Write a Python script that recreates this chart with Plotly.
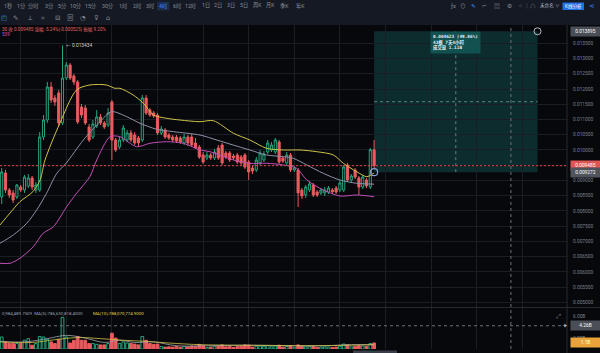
import plotly.graph_objects as go

W, H = 600, 353
BG = "#07080b"
BAR_BG = "#151923"
GRID = "#1a1d24"
AX = "#7c818b"
UP = "#27a47e"
DN = "#ea5b5e"
FONT = "Roboto, Noto Sans CJK SC, DejaVu Sans"

# ---------------- data (4h candles) ----------------
idx = list(range(99))
opens = [0.008458, 0.009246, 0.008688, 0.00859, 0.008458, 0.008786, 0.008688, 0.008819, 0.009082, 0.008688,
         0.008688, 0.010426, 0.010984, 0.012066, 0.011706, 0.01187, 0.010886, 0.012362, 0.012788, 0.012427,
         0.01223, 0.01141, 0.011378, 0.010754, 0.010426, 0.010787, 0.011082, 0.010886, 0.01082, 0.011574,
         0.010328, 0.010098, 0.010328, 0.010328, 0.010558, 0.010492, 0.010394, 0.010328, 0.011706, 0.011312,
         0.011214, 0.011148, 0.010558, 0.010656, 0.010492, 0.010426, 0.010426, 0.010394, 0.01023, 0.010426,
         0.010426, 0.01023, 0.010098, 0.009836, 0.009738, 0.009836, 0.009738, 0.010066, 0.010164, 0.009902,
         0.009902, 0.009803, 0.009836, 0.00977, 0.009836, 0.009606, 0.00941, 0.009344, 0.009574, 0.009672,
         0.009934, 0.01, 0.009934, 0.010262, 0.009738, 0.009574, 0.009836, 0.009344, 0.009344, 0.008688,
         0.008524, 0.008688, 0.008852, 0.008622, 0.00859, 0.00859, 0.008622, 0.008688, 0.008754, 0.008688,
         0.008688, 0.009508, 0.009016, 0.009344, 0.009082, 0.008786, 0.009016, 0.008786, 0.01001]
highs = [0.00941, 0.009344, 0.008754, 0.008688, 0.008885, 0.008852, 0.00918, 0.009213, 0.009147, 0.00895,
         0.01059, 0.011148, 0.01223, 0.01223, 0.011804, 0.011968, 0.013434, 0.012886, 0.012854, 0.012493,
         0.012296, 0.011509, 0.011476, 0.010853, 0.010984, 0.011312, 0.011181, 0.010951, 0.011378, 0.01164,
         0.010394, 0.010426, 0.01082, 0.010656, 0.010656, 0.01059, 0.010459, 0.011804, 0.011804, 0.011378,
         0.011279, 0.011214, 0.010787, 0.010722, 0.010558, 0.010492, 0.010492, 0.010459, 0.010525, 0.010492,
         0.010525, 0.010394, 0.010164, 0.009934, 0.009934, 0.009902, 0.010033, 0.010164, 0.01023, 0.009967,
         0.009967, 0.009869, 0.009902, 0.009836, 0.009902, 0.009672, 0.009475, 0.00977, 0.01, 0.009967,
         0.010328, 0.010262, 0.010394, 0.010328, 0.009803, 0.009934, 0.009902, 0.009475, 0.00941, 0.008754,
         0.008852, 0.008983, 0.008918, 0.008688, 0.008754, 0.008786, 0.008819, 0.008754, 0.008819, 0.009016,
         0.009508, 0.009574, 0.009213, 0.00941, 0.009147, 0.00918, 0.009082, 0.010066, 0.010331]
lows = [0.008229, 0.00859, 0.008426, 0.008262, 0.008393, 0.008622, 0.00859, 0.008754, 0.008688, 0.00859,
        0.008622, 0.010328, 0.010886, 0.011542, 0.011443, 0.010787, 0.01082, 0.012296, 0.012296, 0.012132,
        0.010853, 0.01105, 0.01082, 0.010262, 0.010361, 0.010722, 0.01082, 0.010689, 0.010754, 0.009672,
        0.009934, 0.010033, 0.010262, 0.010262, 0.010262, 0.010164, 0.010131, 0.010262, 0.011148, 0.011082,
        0.01105, 0.010492, 0.010492, 0.010361, 0.010328, 0.010262, 0.01023, 0.010197, 0.010164, 0.010131,
        0.010098, 0.010033, 0.009705, 0.009541, 0.009672, 0.009672, 0.009672, 0.009672, 0.009508, 0.009705,
        0.009606, 0.009672, 0.009541, 0.009508, 0.009377, 0.009016, 0.009213, 0.009278, 0.009508, 0.009606,
        0.009869, 0.009934, 0.009869, 0.009541, 0.009574, 0.009508, 0.009278, 0.009278, 0.00813, 0.008393,
        0.008426, 0.008622, 0.008458, 0.008458, 0.008524, 0.008491, 0.008557, 0.008557, 0.008557, 0.008622,
        0.008622, 0.00895, 0.00895, 0.009049, 0.008524, 0.008721, 0.008754, 0.008721, 0.00941]
closes = [0.009278, 0.008688, 0.008524, 0.00836, 0.008852, 0.008688, 0.009114, 0.009082, 0.008786, 0.008852,
          0.010426, 0.010984, 0.012066, 0.01164, 0.011574, 0.010886, 0.012362, 0.012788, 0.012362, 0.01223,
          0.010918, 0.011148, 0.010886, 0.010328, 0.010853, 0.011082, 0.010886, 0.010754, 0.011214, 0.010328,
          0.01, 0.010328, 0.010722, 0.010558, 0.010328, 0.01023, 0.01023, 0.011706, 0.011214, 0.011148,
          0.011115, 0.010558, 0.010689, 0.010426, 0.010394, 0.010328, 0.010295, 0.010262, 0.010426, 0.01023,
          0.010164, 0.010066, 0.00977, 0.009606, 0.009836, 0.009738, 0.009934, 0.009738, 0.009574, 0.00977,
          0.009672, 0.009738, 0.009606, 0.009574, 0.009442, 0.009278, 0.009311, 0.009672, 0.009902, 0.009869,
          0.01023, 0.010164, 0.010328, 0.009606, 0.009639, 0.009836, 0.009344, 0.00941, 0.00859, 0.008491,
          0.008786, 0.008885, 0.008524, 0.008524, 0.008688, 0.008688, 0.008754, 0.008622, 0.008622, 0.008918,
          0.009442, 0.009016, 0.009147, 0.009114, 0.008786, 0.009114, 0.008819, 0.01001, 0.009485]
volumes_b = [2.2, 1.3, 1.0, 1.0, 1.0, 1.0, 1.6, 1.9, 0.7, 1.0,
             2.3, 2.2, 1.8, 1.3, 1.0, 1.8, 5.8, 2.2, 1.1, 1.6,
             2.3, 1.6, 1.6, 1.0, 1.0, 0.85, 0.75, 0.75, 1.0, 2.9,
             2.0, 1.0, 1.3, 1.1, 1.0, 0.9, 0.75, 2.3, 1.6, 1.0,
             0.85, 0.9, 0.45, 0.35, 0.4, 0.35, 0.5, 0.3, 0.45, 0.4,
             0.55, 0.5, 0.85, 0.6, 0.3, 0.35, 0.45, 0.55, 0.75, 0.4,
             0.5, 0.3, 0.45, 0.5, 0.75, 0.7, 0.35, 0.5, 0.55, 0.45,
             0.6, 0.4, 0.55, 0.7, 0.35, 0.45, 0.6, 0.3, 0.75, 0.5,
             0.4, 0.45, 0.5, 0.3, 0.35, 0.4, 0.35, 0.3, 0.35, 0.5,
             0.9, 0.75, 0.4, 0.5, 0.6, 0.55, 0.5, 1.0, 1.11]

# moving-average lines (bar index, price)
ma_a_idx = [-0.45, 2.2, 4.8, 8.2, 10.1, 11.4, 15.3, 19.7, 23.2, 27.6, 29.8, 31.1, 34.6, 37.3, 39.9, 43.4,
            46.9, 52.2, 55.7, 61, 65.3, 69.7, 74.1, 78.5, 82.9, 87.3, 89.9, 93.4, 96.1, 98]
ma_a_val = [0.00754, 0.007934, 0.008304, 0.008632, 0.009016, 0.009672, 0.010876, 0.011968, 0.012132, 0.012132,
            0.012024, 0.012024, 0.011804, 0.011532, 0.01115, 0.01104, 0.010984, 0.010928, 0.010961, 0.010548,
            0.010328, 0.010056, 0.01, 0.01, 0.009944, 0.009836, 0.009564, 0.009288, 0.009124, 0.009246]
ma_b_idx = [-0.45, 3.05, 6.6, 9.2, 11.8, 14.5, 17, 21.5, 25.9, 28.9, 32.9, 36.4, 40.8, 45.2, 52.2, 56.6,
            61, 65.3, 69.7, 74.1, 76.7, 80.3, 84.6, 89, 93.4, 98]
ma_b_val = [0.00694, 0.007212, 0.007596, 0.008032, 0.00858, 0.009236, 0.009574, 0.010328, 0.010928, 0.011256,
            0.011092, 0.010876, 0.01068, 0.0106, 0.01049, 0.010328, 0.01016, 0.01, 0.009836, 0.00978,
            0.009728, 0.009508, 0.009236, 0.009016, 0.008908, 0.00888]
ma_c_idx = [-0.45, 2.2, 4.8, 8.3, 10.9, 13.6, 17.1, 19.7, 23.2, 25, 28.5, 31.1, 35.5, 39, 43.4, 47.8,
            52.2, 54.8, 61, 65.3, 69.7, 74.1, 77.6, 80.3, 84.6, 89, 93.4, 98]
ma_c_val = [0.006284, 0.006284, 0.006448, 0.006828, 0.007268, 0.007484, 0.00814, 0.00858, 0.009124, 0.009672,
            0.010436, 0.010436, 0.010108, 0.01022, 0.010272, 0.01022, 0.01, 0.009944, 0.009672, 0.009564,
            0.009564, 0.009508, 0.0094, 0.009016, 0.008688, 0.008491, 0.008524, 0.008468]

vol_ma5_idx = [-0.45, 6, 12, 17, 22, 27, 31, 35, 40, 46, 55, 65, 75, 85, 92, 98]
vol_ma5_val = [1.4, 1.3, 1.9, 2.5, 2.0, 1.2, 1.6, 1.2, 1.3, 0.6, 0.6, 0.7, 0.6, 0.6, 0.8, 0.79]
vol_ma10_idx = [-0.45, 8, 14, 20, 26, 32, 38, 44, 52, 62, 72, 82, 92, 98]
vol_ma10_val = [1.3, 1.2, 1.7, 2.1, 1.9, 1.6, 1.4, 1.1, 0.8, 0.7, 0.65, 0.6, 0.7, 0.79]

price_ticks = [0.005 + 0.0005 * k for k in range(18)]
vol_ticks = [2, 6]
vol_tick_text = ["2.00B", "6.00B"]
grid_idx = list(range(5, 146, 12))

measure_start = 98
measure_bars = 43
measure_lo = 0.009272
measure_hi = 0.013895
cross_idx = 134
cross_vol = 4.26

tabs = ["1秒", "1分", "分时", "3分", "5分", "10分", "15分", "30分", "1时", "2时", "3时", "4时",
        "6时", "12时", "1日", "2日", "3日", "5日", "周K", "月K", "季K", "年K"]
tab_x = [8, 21, 33, 49, 62, 75, 90, 107, 123, 137, 150, 163, 177, 190, 206, 218, 231, 244, 257, 270, 284, 300]

# ---------------- geometry ----------------
PLOT_R = 567
X_RANGE = [-0.447, 148.76]
P_DOM = [1 - 307 / H, 1 - 25 / H]
P_RANGE = [0.00485, 0.0141]
V_DOM = [1 - 349 / H, 1 - 308 / H]
V_RANGE = [0, 7.52]


def px(x):
    return x / W


def py(y):
    return 1 - y / H


fig = go.Figure()

fig.add_trace(go.Candlestick(
    x=idx, open=opens, high=highs, low=lows, close=closes,
    increasing=dict(line=dict(color=UP, width=1), fillcolor=BG),
    decreasing=dict(line=dict(color=DN, width=1), fillcolor=DN),
    whiskerwidth=0, hoverinfo="skip", showlegend=False, xaxis="x", yaxis="y"))

for xs, ys, col in [(ma_a_idx, ma_a_val, "#cfc24a"), (ma_b_idx, ma_b_val, "#8f8fa8"),
                    (ma_c_idx, ma_c_val, "#c24fb8")]:
    fig.add_trace(go.Scatter(x=xs, y=ys, mode="lines", line=dict(color=col, width=1, shape="spline", smoothing=0.8),
                             hoverinfo="skip", showlegend=False, xaxis="x", yaxis="y"))

is_up = [c >= o for o, c in zip(opens, closes)]
fig.add_trace(go.Bar(
    x=idx, y=volumes_b, width=0.72,
    marker=dict(color=[BG if u else DN for u in is_up],
                line=dict(color=[UP if u else DN for u in is_up], width=1)),
    hoverinfo="skip", showlegend=False, xaxis="x2", yaxis="y2"))
for xs, ys, col in [(vol_ma5_idx, vol_ma5_val, "#a0a3ad"), (vol_ma10_idx, vol_ma10_val, "#cfc24a")]:
    fig.add_trace(go.Scatter(x=xs, y=ys, mode="lines", line=dict(color=col, width=0.8, shape="spline"),
                             hoverinfo="skip", showlegend=False, xaxis="x2", yaxis="y2"))

# measurement end points
fig.add_trace(go.Scatter(x=[measure_start + measure_bars], y=[measure_hi], mode="markers",
                         marker=dict(symbol="circle-open", size=7, color="#b8bcc4", line=dict(width=1)),
                         hoverinfo="skip", showlegend=False, xaxis="x", yaxis="y"))
fig.add_trace(go.Scatter(x=[measure_start], y=[measure_lo], mode="markers",
                         marker=dict(symbol="circle-open", size=7, color="#8aa3d6", line=dict(width=1.2)),
                         hoverinfo="skip", showlegend=False, xaxis="x", yaxis="y"))

shapes = []
annotations = []

# measurement box
m_end = measure_start + measure_bars
m_mid_x = (measure_start + m_end) / 2
m_mid_y = (measure_lo + measure_hi) / 2
shapes.append(dict(type="rect", xref="x", yref="y", x0=measure_start, x1=m_end, y0=measure_lo, y1=measure_hi,
                   fillcolor="rgba(24,120,118,0.32)", line=dict(width=0), layer="below"))
shapes.append(dict(type="line", xref="x", yref="y", x0=measure_start, x1=m_end, y0=m_mid_y, y1=m_mid_y,
                   line=dict(color="rgba(160,210,205,0.55)", width=1, dash="dot")))
shapes.append(dict(type="line", xref="x", yref="y", x0=m_mid_x, x1=m_mid_x, y0=measure_lo, y1=measure_hi,
                   line=dict(color="rgba(160,210,205,0.55)", width=1, dash="dot")))

# current price line
last = closes[-1]
shapes.append(dict(type="line", xref="paper", yref="y", x0=0, x1=px(PLOT_R), y0=last, y1=last,
                   line=dict(color="#d84a4a", width=1, dash="2px,2px")))
# crosshair
shapes.append(dict(type="line", xref="x", yref="paper", x0=cross_idx, x1=cross_idx, y0=V_DOM[0], y1=P_DOM[1],
                   line=dict(color="#6e727b", width=1, dash="dot")))
shapes.append(dict(type="line", xref="paper", yref="y2", x0=0, x1=px(PLOT_R), y0=cross_vol, y1=cross_vol,
                   line=dict(color="#6e727b", width=1, dash="dot")))
# separators
shapes.append(dict(type="line", xref="paper", yref="paper", x0=px(PLOT_R), x1=px(PLOT_R), y0=0, y1=py(25),
                   line=dict(color="#262a33", width=1)))
shapes.append(dict(type="line", xref="paper", yref="paper", x0=0, x1=1, y0=py(307.5), y1=py(307.5),
                   line=dict(color="#262a33", width=1)))
# toolbar
shapes.append(dict(type="rect", xref="paper", yref="paper", x0=0, x1=1, y0=py(25), y1=1,
                   fillcolor=BAR_BG, line=dict(width=0)))
shapes.append(dict(type="rect", xref="paper", yref="paper", x0=px(157), x1=px(169.5), y0=py(10.5), y1=py(1.5),
                   fillcolor="#1c2b47", line=dict(width=0)))
shapes.append(dict(type="rect", xref="paper", yref="paper", x0=px(562.5), x1=px(584), y0=py(10), y1=py(2.5),
                   fillcolor="#1f6fe5", line=dict(width=0)))
# scrollbar
shapes.append(dict(type="rect", xref="paper", yref="paper", x0=px(353), x1=px(397), y0=0, y1=py(350.5),
                   fillcolor="#3a3e48", line=dict(width=0)))


def txt(x, y, s, size=5, color=AX, xanchor="left", xref="paper", yref="paper", **kw):
    annotations.append(dict(x=x, y=y, xref=xref, yref=yref, text=s, showarrow=False, xanchor=xanchor,
                            yanchor=kw.pop("yanchor", "middle"), font=dict(size=size, color=color,
                                                                          family=kw.pop("family", FONT)), **kw))


# toolbar texts
for t, x in zip(tabs, tab_x):
    txt(px(x), py(6), t, size=5.2, color="#3d8cff" if t == "4时" else "#8b909a", xanchor="center")
icons = ["◰", "✎", "⟂", "⌗", "⊟", "⊠", "◔", "⊽", "⌂"]
icon_x = [4, 15, 30, 43, 57, 70, 83, 96, 108]
for i, (g, x) in enumerate(zip(icons, icon_x)):
    txt(px(x), py(17.5), g, size=6.5, color="#3d8cff" if i == 0 else "#8b909a", xanchor="center")
right_icons = [("ƒx", 453), ("⊙", 463), ("✎", 473), ("⌐", 484), ("▤", 497), ("⚙", 509), ("⁘", 520), ("│", 527),
               ("☁", 533)]
for g, x in right_icons:
    txt(px(x), py(6), g, size=5.8, color="#3d8cff" if g == "✎" else "#8b909a", xanchor="center")
txt(px(538), py(6), "未命名 ∨", size=4.6, color="#b9bdc5")
txt(px(573.2), py(6.3), "K线分析", size=4.6, color="#ffffff", xanchor="center")
txt(px(591), py(6), "⋖", size=6.5, color="#3d8cff", xanchor="center")

# info line
prev_close = closes[-2]
chg = last - prev_close
pct = chg / prev_close * 100
amp = (highs[-1] - lows[-1]) / prev_close * 100
txt(0, py(29), f"30 收 {last:.6f} 涨幅 {pct:.2f}%({chg:.6f}) 振幅 {amp:.2f}%", size=4.6, color="#e06363")
txt(0, py(34.5), "539", size=4.6, color="#cf4fcf")

# peak label
pk = max(range(len(highs)), key=lambda k: highs[k])
txt(pk, highs[pk], f"← {highs[pk]:.6f}", size=4.8, color="#cfd3da", xref="x", yref="y", xshift=1)

# measurement label
hours = measure_bars * 4
mvol = sum(volumes_b[measure_start:])
mlabel = (f"<b>{measure_hi - measure_lo:.6f} ({(measure_hi - measure_lo) / measure_lo * 100:.2f}%)</b><br>"
          f"<b>{measure_bars}根 {hours // 24}天{hours % 24}小时</b><br><b>成交量 {mvol:.2f}B</b>")
annotations.append(dict(x=m_mid_x, y=measure_hi, xref="x", yref="y", text=mlabel, showarrow=False,
                        xanchor="center", yanchor="top", align="left", bgcolor="#115150", borderpad=2,
                        font=dict(size=4.4, color="#e8f0f0", family="DejaVu Sans Mono, Noto Sans CJK SC")))


# axis value boxes
def axbox(yv, s, bg, yref="y", color="#ffffff"):
    annotations.append(dict(x=px(569.5), y=yv, xref="paper", yref=yref, text=s, showarrow=False,
                            xanchor="left", yanchor="middle", bgcolor=bg, width=27, height=6.5,
                            font=dict(size=4.8, color=color, family=FONT)))


axbox(measure_hi, f"{measure_hi:.6f}", "#4a4e57")
axbox(last, f"{last:.6f}", "#e05656")
axbox(measure_lo, f"{measure_lo:.6f}", "#50545d")
axbox(cross_vol, f"{cross_vol:.2f}B", "#4a4e57", yref="y2")
axbox(volumes_b[-1], f"{volumes_b[-1]:.1f}B", "#e9a33a", yref="y2")
txt(px(565), cross_vol, "+", size=7, color="#e0e0e0", xanchor="center", yref="y2")
txt(px(558), py(315), "⤢", size=6, color="#8b909a", xanchor="center")

# volume MA text
txt(0, py(313), "0,984,489.7509  MA(5):786,630,818.4000", size=4.4, color="#9ea2ab")
txt(px(91), py(313), "MA(10):788,070,774.9000", size=4.4, color="#e3cf4d")

# tick labels hidden behind the current-price box are left blank
price_tick_text = ["" if abs(v - last) < 0.00012 else f"{v:.6f}" for v in price_ticks]

axis_common = dict(showline=False, zeroline=False, fixedrange=True)
fig.update_layout(
    width=W, height=H, margin=dict(l=0, r=0, t=0, b=0),
    paper_bgcolor=BG, plot_bgcolor=BG, showlegend=False, boxgap=0.2, bargap=0.2,
    xaxis=dict(domain=[0, px(PLOT_R)], range=X_RANGE, tickvals=grid_idx, showticklabels=False,
               showgrid=True, gridcolor=GRID, gridwidth=1, anchor="y", rangeslider=dict(visible=False),
               **axis_common),
    xaxis2=dict(domain=[0, px(PLOT_R)], range=X_RANGE, matches="x", tickvals=grid_idx, showticklabels=False,
                showgrid=True, gridcolor=GRID, gridwidth=1, anchor="y2", **axis_common),
    yaxis=dict(domain=P_DOM, range=P_RANGE, side="right", anchor="x", tickvals=price_ticks,
               ticktext=price_tick_text, ticks="", ticklabelstandoff=5,
               tickfont=dict(size=4.8, color=AX, family=FONT), showgrid=True, gridcolor=GRID, **axis_common),
    yaxis2=dict(domain=V_DOM, range=V_RANGE, side="right", anchor="x2", tickvals=vol_ticks,
                ticktext=vol_tick_text, ticks="", ticklabelstandoff=5,
                tickfont=dict(size=4.8, color=AX, family=FONT), showgrid=False, **axis_common),
    shapes=shapes, annotations=annotations,
)

fig.write_html("out.html")
